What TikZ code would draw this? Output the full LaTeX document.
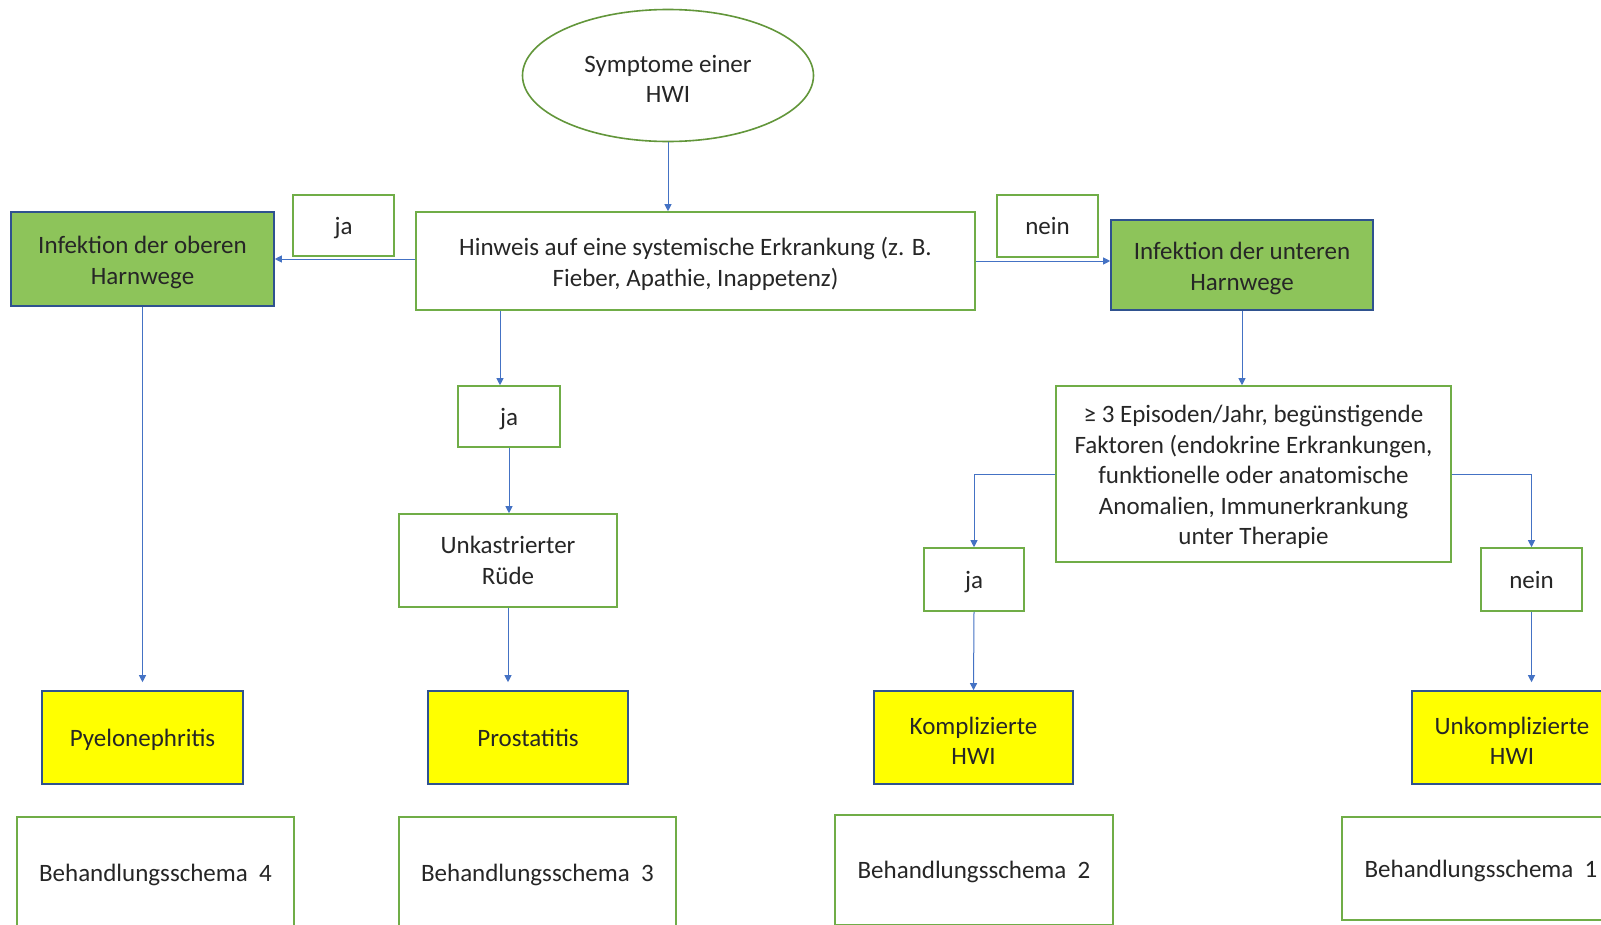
\documentclass[tikz,border=0pt]{standalone}
\usepackage{fontspec}
\setmainfont{Carlito}
\usetikzlibrary{shapes.geometric,arrows.meta}
\definecolor{gfill}{RGB}{141,196,90}
\definecolor{dblue}{RGB}{47,82,143}
\definecolor{gline}{RGB}{112,173,71}
\definecolor{eline}{RGB}{98,150,58}
\definecolor{ablue}{RGB}{68,114,196}
\definecolor{yfill}{RGB}{255,255,0}
\newcommand{\topstrut}{\rule{0pt}{24pt}}
\tikzset{
  base/.style={draw, line width=1.6pt, inner sep=0pt, align=center,
    font=\fontsize{25}{30.5}\selectfont, text=black!85},
  single/.style={execute at begin node={\topstrut},
    execute at end node={\rule[-6.5pt]{0pt}{6.5pt}}},
  wbox/.style={base, draw=gline, fill=white},
  gbox/.style={base, draw=dblue, fill=gfill},
  ybox/.style={base, draw=dblue, fill=yfill},
  conn/.style={draw=ablue, line width=1pt, -{Triangle[width=7pt,length=7pt]}},
}
\begin{document}
\begin{tikzpicture}[x=1pt,y=-1pt]
\useasboundingbox (0,0) rectangle (1601,924);
\clip (0,0) rectangle (1601,924);
\fill[white] (0,0) rectangle (1601,924);

\node[base, ellipse, draw=eline, fill=white, minimum width=291pt, minimum height=132pt] (sym) at (668,75.5) {\topstrut Symptome einer\\HWI};

\node[gbox, minimum width=263pt, minimum height=94pt] (obere) at (142.5,259) {\topstrut Infektion der oberen\\Harnwege};
\node[wbox, single, minimum width=101pt, minimum height=61pt] (ja1) at (343.5,225.5) {ja};
\node[wbox, minimum width=559pt, minimum height=98pt] (hinweis) at (695.5,261) {\topstrut Hinweis auf eine systemische Erkrankung (z. B.\\Fieber, Apathie, Inappetenz)};
\node[wbox, single, minimum width=101pt, minimum height=62pt] (nein1) at (1047.5,226) {nein};
\node[gbox, minimum width=262pt, minimum height=90pt] (untere) at (1242,265) {\topstrut Infektion der unteren\\Harnwege};

\node[wbox, single, minimum width=102pt, minimum height=61pt] (ja2) at (509,416.5) {ja};
\node[wbox, minimum width=218pt, minimum height=93pt] (rude) at (508,560.5) {Unkastrierter\\Rüde};

\node[wbox, minimum width=395pt, minimum height=176pt] (epi) at (1253.5,474) {\topstrut ≥ 3 Episoden/Jahr, begünstigende\\Faktoren (endokrine Erkrankungen,\\funktionelle oder anatomische\\Anomalien, Immunerkrankung\\unter Therapie};
\node[wbox, single, minimum width=100pt, minimum height=63pt] (ja3) at (974,579.5) {ja};
\node[wbox, single, minimum width=101pt, minimum height=63pt] (nein3) at (1531.5,579.5) {nein};

\node[ybox, single, minimum width=201pt, minimum height=93pt] (pyelo) at (142.5,737.5) {Pyelonephritis};
\node[ybox, single, minimum width=200pt, minimum height=93pt] (prost) at (528,737.5) {Prostatitis};
\node[ybox, minimum width=199pt, minimum height=93pt] (kompl) at (973.5,737.5) {\topstrut Komplizierte\\HWI};
\node[ybox, minimum width=200pt, minimum height=93pt] (unkompl) at (1512,737.5) {\topstrut Unkomplizierte\\HWI};

\node[wbox, single, minimum width=277pt, minimum height=112pt] (b4) at (155.5,873) {Behandlungsschema\ \ 4};
\node[wbox, single, minimum width=277pt, minimum height=112pt] (b3) at (537.5,873) {Behandlungsschema\ \ 3};
\node[wbox, single, minimum width=278pt, minimum height=110pt] (b2) at (974,870) {Behandlungsschema\ \ 2};
\node[wbox, single, minimum width=278pt, minimum height=103pt] (b1) at (1481,868.5) {Behandlungsschema\ \ 1};

\coordinate (ja2in) at ([xshift=-9pt]ja2.north);

\draw[conn] (sym.south) -- (sym.south |- hinweis.north);
\draw[conn] (hinweis.west |- obere.east) -- (obere.east);
\draw[conn] (hinweis.east) -- (hinweis.east -| untere.west);
\draw[conn, shorten >=8pt] (obere.south) -- (pyelo.north);
\draw[conn] (hinweis.south -| ja2in) -- (ja2in);
\draw[conn] (ja2.south) -- (ja2.south |- rude.north);
\draw[conn, shorten >=8pt] (rude.south) -- (rude.south |- prost.north);
\draw[conn] (untere.south) -- (untere.south |- epi.north);
\draw[conn] (epi.west) -| (ja3.north);
\draw[conn] (epi.east) -| (nein3.north);
\draw[conn] (ja3.south) -- (kompl.north);
\draw[conn, shorten >=8pt] (nein3.south) -- (nein3.south |- unkompl.north);
\end{tikzpicture}
\end{document}
